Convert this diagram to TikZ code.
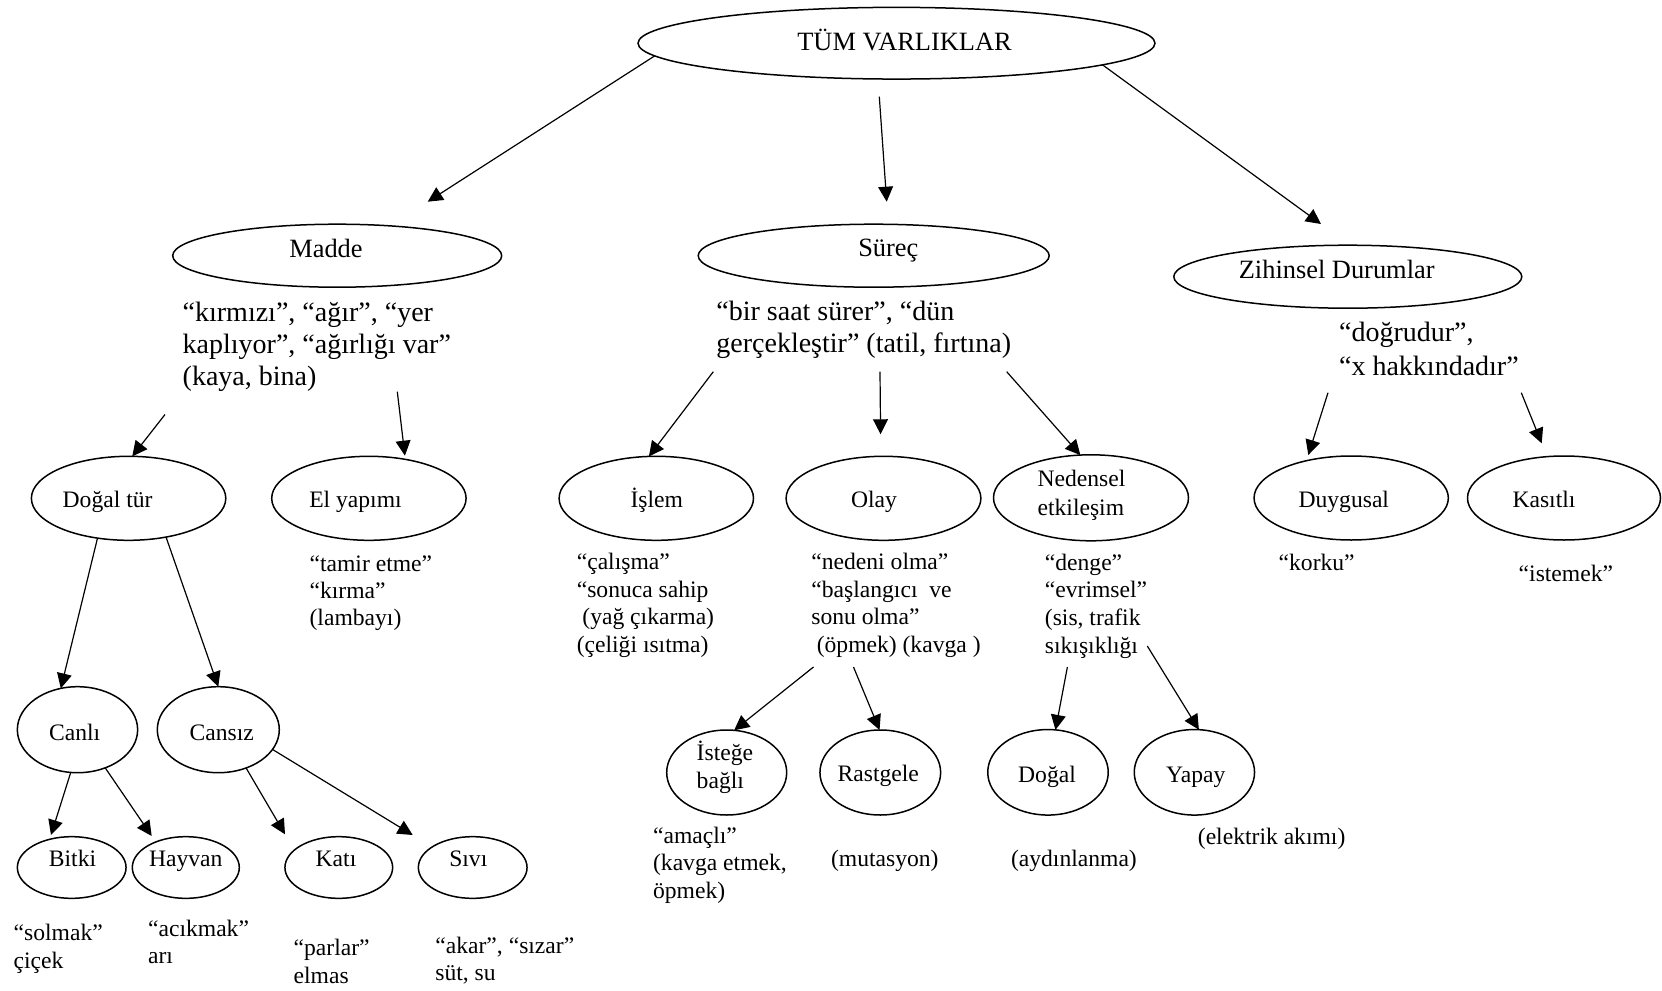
\documentclass[tikz,border=0pt]{standalone}
\usepackage{fontspec}
\setmainfont{Liberation Serif}
\usetikzlibrary{shapes.geometric,arrows.meta}
\newcommand{\lb}[3]{\makebox[0pt]{\hspace*{#1}\hspace*{#1}\raisebox{#2}[0pt][0pt]{#3}}}
\newcommand{\ml}[1]{\begin{tabular}[t]{@{}l@{}}#1\end{tabular}}
\tikzset{
  ell/.style={draw, ellipse, line width=0.75pt, inner sep=0pt, outer sep=0pt},
  lab/.style={font=\fontsize{13.2}{15.8}\selectfont},
  sm/.style={font=\fontsize{11.8}{13.9}\selectfont},
  td/.style={anchor=base west, inner sep=0pt, font=\fontsize{14}{15.85}\selectfont},
  sd/.style={anchor=base west, inner sep=0pt, font=\fontsize{11.8}{13.9}\selectfont},
  arr/.style={-{Triangle[length=7.5pt,width=7.4pt]}, line width=0.6pt},
}
\begin{document}
\begin{tikzpicture}[x=0.5pt,y=-0.5pt]
\useasboundingbox (0,0) rectangle (1662,991);
% ---- ellipses
\node[ell,lab,minimum width=258.5pt,minimum height=35.85pt] (tum) at (896.5,43.2) {\lb{4pt}{-3.75pt}{TÜM VARLIKLAR}};
\node[ell,lab,minimum width=164.5pt,minimum height=31.5pt] (madde) at (337.2,255.7) {\lb{-5.6pt}{-0.8pt}{Madde}};
\node[ell,lab,minimum width=175.5pt,minimum height=31.5pt] (surec) at (873.7,255.7) {\lb{7.3pt}{-0.5pt}{Süreç}};
\node[ell,lab,minimum width=174pt,minimum height=31.5pt] (zihin) at (1347.8,276.7) {\lb{-5.55pt}{-0.8pt}{Zihinsel Durumlar}};
\node[ell,sm,minimum width=97.2pt,minimum height=42pt] (dogaltur) at (128.6,498.3) {\lb{-10.5pt}{-4.5pt}{Doğal tür}};
\node[ell,sm,minimum width=97.2pt,minimum height=42pt] (elyap) at (368.9,498.3) {\lb{-6.7pt}{-4.5pt}{El yapımı}};
\node[ell,sm,minimum width=97.2pt,minimum height=42pt] (islem) at (656.3,498.3) {\lb{0.25pt}{-4.5pt}{İşlem}};
\node[ell,sm,minimum width=97.4pt,minimum height=42pt] (olay) at (883.5,498.3) {\lb{-4.75pt}{-4.5pt}{Olay}};
\node[ell,font=\fontsize{11.8}{14.5}\selectfont,minimum width=97.5pt,minimum height=43pt] (neden) at (1091,497.8) {\lb{-4.75pt}{5.9pt}{\ml{Nedensel\\etkileşim}}};
\node[ell,sm,minimum width=97.15pt,minimum height=42pt] (duyg) at (1351.2,498) {\lb{-3.7pt}{-4.65pt}{Duygusal}};
\node[ell,sm,minimum width=96.5pt,minimum height=42pt] (kasit) at (1564,498) {\lb{-10pt}{-4.5pt}{Kasıtlı}};
\node[ell,sm,minimum width=60.15pt,minimum height=43pt] (canli) at (77.5,729.7) {\lb{-1.4pt}{-5.15pt}{Canlı}};
\node[ell,sm,minimum width=61pt,minimum height=43pt] (cansiz) at (218.3,729.7) {\lb{1.7pt}{-5.15pt}{Cansız}};
\node[ell,font=\fontsize{11.8}{14.15}\selectfont,minimum width=60pt,minimum height=42.5pt] (istege) at (726.7,772.5) {\lb{-0.9pt}{6.25pt}{\ml{İsteğe\\bağlı}}};
\node[ell,sm,minimum width=60.35pt,minimum height=42.5pt] (rast) at (880.3,772.5) {\lb{-1pt}{-4.6pt}{Rastgele}};
\node[ell,sm,minimum width=60.25pt,minimum height=42.75pt] (dogal) at (1048,772.3) {\lb{-0.5pt}{-4.85pt}{Doğal}};
\node[ell,sm,minimum width=60.15pt,minimum height=42.75pt] (yapay) at (1194.4,772.3) {\lb{0.7pt}{-4.85pt}{Yapay}};
\node[ell,sm,minimum width=54.35pt,minimum height=30.85pt] (bitki) at (71.7,867.5) {\lb{0.4pt}{0.75pt}{Bitki}};
\node[ell,sm,minimum width=53.5pt,minimum height=30.85pt] (hayvan) at (185.8,867.5) {\lb{0pt}{0.75pt}{Hayvan}};
\node[ell,sm,minimum width=53.85pt,minimum height=30.85pt] (kati) at (338.8,867.5) {\lb{-1.4pt}{0.75pt}{Katı}};
\node[ell,sm,minimum width=54.35pt,minimum height=30.85pt] (sivi) at (472.7,867.5) {\lb{-2.2pt}{0.75pt}{Sıvı}};
% ---- descriptions
\node[td] (madde-d) at (182.3,321.7) {\ml{“kırmızı”, “ağır”, “yer\\kaplıyor”, “ağırlığı var”\\(kaya, bina)}};
\node[td] (surec-d) at (716,320.5) {\ml{“bir saat sürer”, “dün\\gerçekleştir” (tatil, fırtına)}};
\node[td,font=\fontsize{14}{16.65}\selectfont] (zihin-d) at (1338.7,341.7) {\ml{“doğrudur”,\\“x hakkındadır”}};
\node[sd,font=\fontsize{11.8}{13.65}\selectfont] (elyap-d) at (309.2,571) {\ml{“tamir etme”\\“kırma”\\(lambayı)}};
\node[sd] (islem-d) at (576.4,569.3) {\ml{“çalışma”\\“sonuca sahip\\\hspace*{2.8pt}(yağ çıkarma)\\(çeliği ısıtma)}};
\node[sd] (olay-d) at (811,569.3) {\ml{“nedeni olma”\\“başlangıcı\ \ ve\\sonu olma”\\\hspace*{2.7pt}(öpmek) (kavga )}};
\node[sd] (neden-d) at (1044.5,570) {\ml{“denge”\\“evrimsel”\\(sis, trafik\\sıkışıklığı}};
\node[sd] (duyg-d) at (1278.3,570) {“korku”};
\node[sd] (kasit-d) at (1518.3,581.7) {“istemek”};
\node[sd,font=\fontsize{11.8}{13.75}\selectfont] (istege-d) at (652.7,843.3) {\ml{“amaçlı”\\(kavga etmek,\\öpmek)}};
\node[sd] (rast-d) at (830.7,866.7) {(mutasyon)};
\node[sd] (dogal-d) at (1010.6,866) {(aydınlanma)};
\node[sd] (yapay-d) at (1197.5,844.3) {(elektrik akımı)};
\node[sd,font=\fontsize{11.8}{14.15}\selectfont] (bitki-d) at (13.3,940) {\ml{“solmak”\\çiçek}};
\node[sd,font=\fontsize{11.8}{13.35}\selectfont] (hayvan-d) at (147.7,936.7) {\ml{“acıkmak”\\arı}};
\node[sd,font=\fontsize{11.8}{14.15}\selectfont] (kati-d) at (293.3,955) {\ml{“parlar”\\elmas}};
\node[sd,font=\fontsize{11.8}{13.35}\selectfont] (sivi-d) at (435,953.3) {\ml{“akar”, “sızar”\\süt, su}};
% ---- free ends of connectors
\coordinate (t1) at (427.7,201.7);
\coordinate (s2) at (879.3,96.7);
\coordinate (t2) at (886.7,201.7);
\coordinate (t3) at (1321,224);
\coordinate (s4) at (165,414.5);
\coordinate (s5) at (397.3,391.7);
\coordinate (t5) at (404.9,455.7);
\coordinate (s6) at (713.3,371.7);
\coordinate (s7) at (880,371.7);
\coordinate (t7) at (880.6,434.3);
\coordinate (s8) at (1006.7,371.7);
\coordinate (s9) at (1328,392.7);
\coordinate (t9) at (1308.3,455);
\coordinate (s10) at (1521.3,392.7);
\coordinate (t10) at (1541.7,443.3);
\coordinate (t13) at (51,835);
\coordinate (t14) at (151.7,836);
\coordinate (t15) at (285,834.3);
\coordinate (t16) at (412.7,835);
\coordinate (s17) at (813.5,667);
\coordinate (s18) at (853.5,667);
\coordinate (s19) at (1067.4,667);
\coordinate (s20) at (1147.3,646);
% ---- connectors
\draw[arr] (tum.183.4) -- (t1);
\draw[arr] (s2) -- (t2);
\draw[arr] (tum.-6) -- (t3);
\draw[arr] (s4) -- (dogaltur.85.4);
\draw[arr] (s5) -- (t5);
\draw[arr] (s6) -- (islem.100.9);
\draw[arr] (s7) -- (t7);
\draw[arr] (s8) -- (neden.104.8);
\draw[arr] (s9) -- (t9);
\draw[arr] (s10) -- (t10);
\draw[arr] (dogaltur.232) -- (canli.112.3);
\draw[arr] (dogaltur.-46.7) -- (cansiz.90);
\draw[arr] (canli.261.4) -- (t13);
\draw[arr] (canli.-54.3) -- (t14);
\draw[arr] (cansiz.-54.1) -- (t15);
\draw[arr] (cansiz.-20) -- (t16);
\draw[arr] (s17) -- (istege.80.3);
\draw[arr] (s18) -- (rast.91);
\draw[arr] (s19) -- (dogal.80.7);
\draw[arr] (s20) -- (yapay.84.7);
\end{tikzpicture}
\end{document}
